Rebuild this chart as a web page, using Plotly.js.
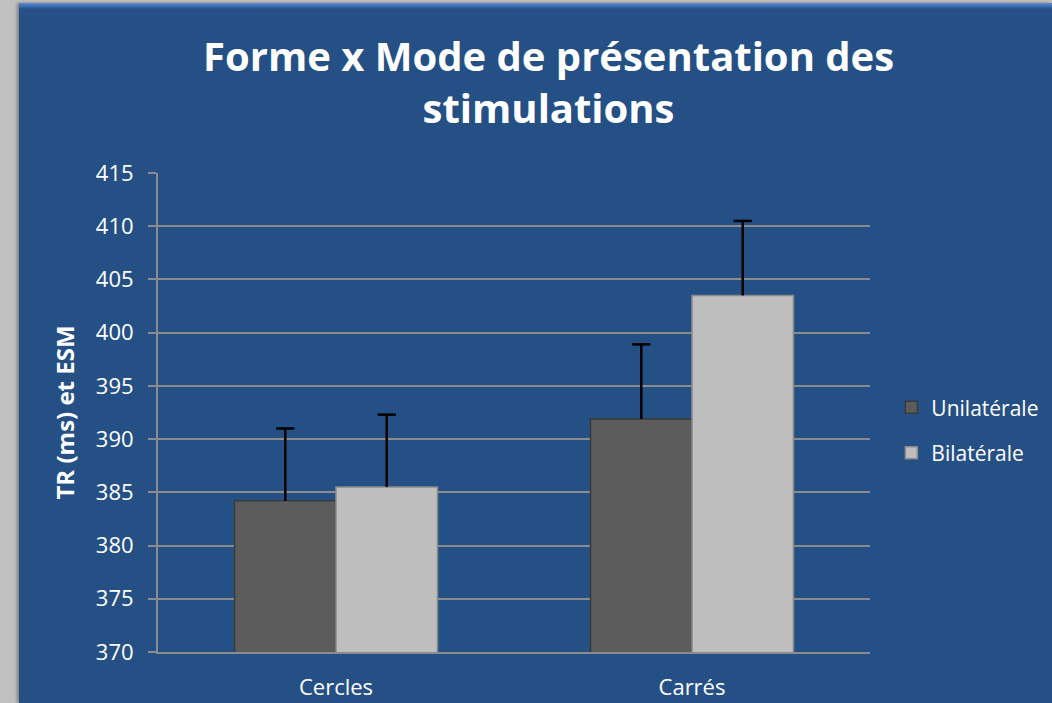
<!DOCTYPE html>
<html><head><meta charset="utf-8">
<script src="https://cdn.plot.ly/plotly-3.0.1.min.js"></script>
<style>
html,body{margin:0;padding:0;background:#c0c0c0;width:1052px;height:703px;overflow:hidden;}
#panel{position:absolute;left:19px;top:3px;width:1033px;height:700px;background:#255086;box-shadow:-2px 0 3px rgba(0,0,0,0.35);overflow:hidden;}
#panel:before{content:"";position:absolute;left:0;top:0;right:0;height:6px;background:linear-gradient(#5b8bd0,#3a6aae 60%,#255086);}
#chart{position:absolute;left:0;top:0;width:1120px;height:700px;}
</style></head>
<body>
<div id="panel"><div id="chart"></div></div>
<script>
const categories = ["Cercles", "Carrés"];
const seriesNames = ["Unilatérale", "Bilatérale"];
const unilateral = [384.2, 391.9];
const bilateral = [385.5, 403.5];
const unilateralErr = [6.8, 7.0];
const bilateralErr = [6.8, 7.0];
const yTicks = [370, 375, 380, 385, 390, 395, 400, 405, 410, 415];

const fontFam = "Open Sans, Lato, sans-serif";
function bar(name, y, err, color, line, group) {
  return {
    type: "bar", name: name, x: categories, y: y,
    legendgroup: group, offsetgroup: group,
    marker: {color: color, line: {color: line, width: 1.5}},
    error_y: {type: "data", symmetric: false, array: err, arrayminus: err.map(function(){return 0;}), color: "#000000", thickness: 2.5, width: 0}
  };
}
function caps(y, err, group) {
  return {
    type: "scatter", mode: "markers", x: categories, y: y.map(function(v, i){return v + err[i];}),
    offsetgroup: group, showlegend: false, hoverinfo: "skip",
    marker: {symbol: "line-ew", size: 13, color: "#000000", line: {color: "#000000", width: 2.5}}
  };
}
const data = [
  bar(seriesNames[0], unilateral, unilateralErr, "#5c5c5c", "#3a3a3a", "a"),
  bar(seriesNames[1], bilateral, bilateralErr, "#bebebe", "#8a8a8a", "b"),
  caps(unilateral, unilateralErr, "a"),
  caps(bilateral, bilateralErr, "b")
];
const layout = {
  width: 1120, height: 700,
  margin: {l: 139, r: 269, t: 170, b: 51},
  paper_bgcolor: "rgba(0,0,0,0)", plot_bgcolor: "rgba(0,0,0,0)",
  barmode: "group", scattermode: "group", bargap: 0.43, bargroupgap: 0,
  font: {family: fontFam, color: "#ffffff", size: 21},
  annotations: [{text: "<b>Forme x Mode de présentation des<br>stimulations</b>", xref: "paper", yref: "paper", x: 0.548, xanchor: "center", y: 1.307, yanchor: "top", showarrow: false, font: {family: fontFam, size: 40, color: "#ffffff"}}],
  xaxis: {showline: true, linecolor: "#8c8c8c", linewidth: 2, ticks: "", showgrid: false, tickfont: {size: 22, color: "#ffffff"}, ticklabelstandoff: 15, fixedrange: true},
  yaxis: {range: [370, 415], tickvals: yTicks, ticktext: yTicks.map(String),
    showline: true, linecolor: "#8c8c8c", linewidth: 2, ticks: "outside", ticklen: 8, tickcolor: "#8c8c8c", tickwidth: 2,
    showgrid: true, gridcolor: "#8c8c8c", gridwidth: 2, zeroline: false, ticklabelstandoff: 10,
    tickfont: {size: 22, color: "#ffffff"},
    title: {text: "<b>TR (ms) et ESM</b>", font: {size: 24, color: "#ffffff"}, standoff: 14}},
  legend: {x: 1.03, xanchor: "left", y: 0.463, yanchor: "middle", font: {size: 21, color: "#ffffff"}, bgcolor: "rgba(0,0,0,0)", traceorder: "grouped", tracegroupgap: 15, itemwidth: 30},
  showlegend: true
};
Plotly.newPlot("chart", data, layout, {displayModeBar: false, staticPlot: true});
</script>
</body></html>
